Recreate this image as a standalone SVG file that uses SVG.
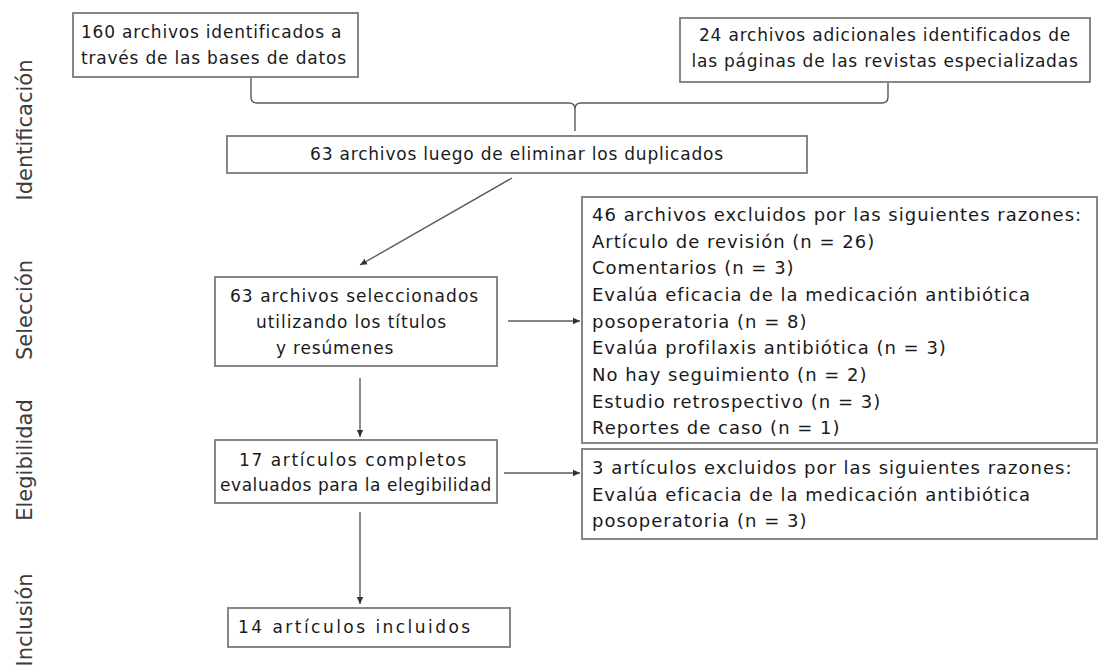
<svg xmlns="http://www.w3.org/2000/svg" width="1099" height="667" viewBox="0 0 1099 667">
  <style>
    .box { fill: #ffffff; stroke: #7a7a7a; stroke-width: 1.8; }
    .t { font-family: "DejaVu Sans", Verdana, sans-serif; font-size: 17px; letter-spacing: 0.8px; fill: #1a1a1a; }
    .c { text-anchor: middle; }
    .r { font-family: "DejaVu Sans", Verdana, sans-serif; font-size: 18px; letter-spacing: 1px; fill: #1a1a1a; }
    .lab { font-family: "DejaVu Sans", Verdana, sans-serif; font-size: 21px; fill: #3c3c3c; text-anchor: middle; }
    .ln { fill: none; stroke: #5a5a5a; stroke-width: 1.4; }
    .arr { fill: none; stroke: #5a5a5a; stroke-width: 1.4; marker-end: url(#ah); }
  </style>
  <defs>
    <marker id="ah" markerWidth="9" markerHeight="9" refX="7" refY="4" orient="auto" markerUnits="userSpaceOnUse">
      <path d="M0,0.8 L7,4 L0,7.2 z" fill="#333333"/>
    </marker>
  </defs>
  <rect width="1099" height="667" fill="#ffffff"/>

  <g id="labels">
    <text class="lab" transform="translate(32,130) rotate(-90)">Identificación</text>
    <text class="lab" transform="translate(32,310) rotate(-90)">Selección</text>
    <text class="lab" transform="translate(32,460) rotate(-90)">Elegibilidad</text>
    <text class="lab" transform="translate(32,620) rotate(-90)">Inclusión</text>
  </g>

  <g id="connectors">
    <path class="ln" d="M251,77 V97 Q251,103 257,103 H569 Q575,103 575,109 Q575,103 581,103 H882 Q888,103 888,97 V83"/>
    <path class="ln" d="M575,109 V131"/>
    <path class="arr" d="M512,178 L360,265"/>
    <path class="arr" d="M360,378 V437"/>
    <path class="arr" d="M360,512 V604"/>
    <path class="arr" d="M508,321 H580"/>
    <path class="arr" d="M504,473 H580"/>
  </g>

  <g id="n160">
    <rect class="box" x="73" y="13" width="285" height="64"/>
    <text class="t" x="81" y="38">160 archivos identificados a</text>
    <text class="t" x="81" y="64">través de las bases de datos</text>
  </g>

  <g id="n24">
    <rect class="box" x="680" y="18" width="410" height="64"/>
    <text class="t c" x="885" y="41">24 archivos adicionales identificados de</text>
    <text class="t c" x="885" y="67">las páginas de las revistas especializadas</text>
  </g>

  <g id="n63dup">
    <rect class="box" x="227" y="136" width="580" height="37"/>
    <text class="t c" x="517" y="160">63 archivos luego de eliminar los duplicados</text>
  </g>

  <g id="n63sel">
    <rect class="box" x="215" y="277" width="282" height="89"/>
    <text class="t" x="230" y="302" textLength="249" lengthAdjust="spacing">63 archivos seleccionados</text>
    <text class="t" x="256" y="328" textLength="191" lengthAdjust="spacing">utilizando los títulos</text>
    <text class="t" x="276" y="354">y resúmenes</text>
  </g>

  <g id="n46">
    <rect class="box" x="582" y="197" width="515" height="246"/>
    <text class="r" x="592" y="221">46 archivos excluidos por las siguientes razones:</text>
    <text class="r" x="592" y="248">Artículo de revisión (n = 26)</text>
    <text class="r" x="592" y="274">Comentarios (n = 3)</text>
    <text class="r" x="592" y="301">Evalúa eficacia de la medicación antibiótica</text>
    <text class="r" x="592" y="328">posoperatoria (n = 8)</text>
    <text class="r" x="592" y="354">Evalúa profilaxis antibiótica (n = 3)</text>
    <text class="r" x="592" y="381">No hay seguimiento (n = 2)</text>
    <text class="r" x="592" y="408">Estudio retrospectivo (n = 3)</text>
    <text class="r" x="592" y="434">Reportes de caso (n = 1)</text>
  </g>

  <g id="n17">
    <rect class="box" x="215" y="440" width="282" height="63"/>
    <text class="t" x="239" y="466" textLength="228" lengthAdjust="spacing">17 artículos completos</text>
    <text class="t" x="220" y="491" textLength="272" lengthAdjust="spacing">evaluados para la elegibilidad</text>
  </g>

  <g id="n3">
    <rect class="box" x="582" y="449" width="515" height="90"/>
    <text class="r" x="592" y="474">3 artículos excluidos por las siguientes razones:</text>
    <text class="r" x="592" y="501">Evalúa eficacia de la medicación antibiótica</text>
    <text class="r" x="592" y="527">posoperatoria (n = 3)</text>
  </g>

  <g id="n14">
    <rect class="box" x="228" y="608" width="282" height="39"/>
    <text class="t" x="238" y="633" textLength="233" lengthAdjust="spacing">14 artículos incluidos</text>
  </g>
</svg>
